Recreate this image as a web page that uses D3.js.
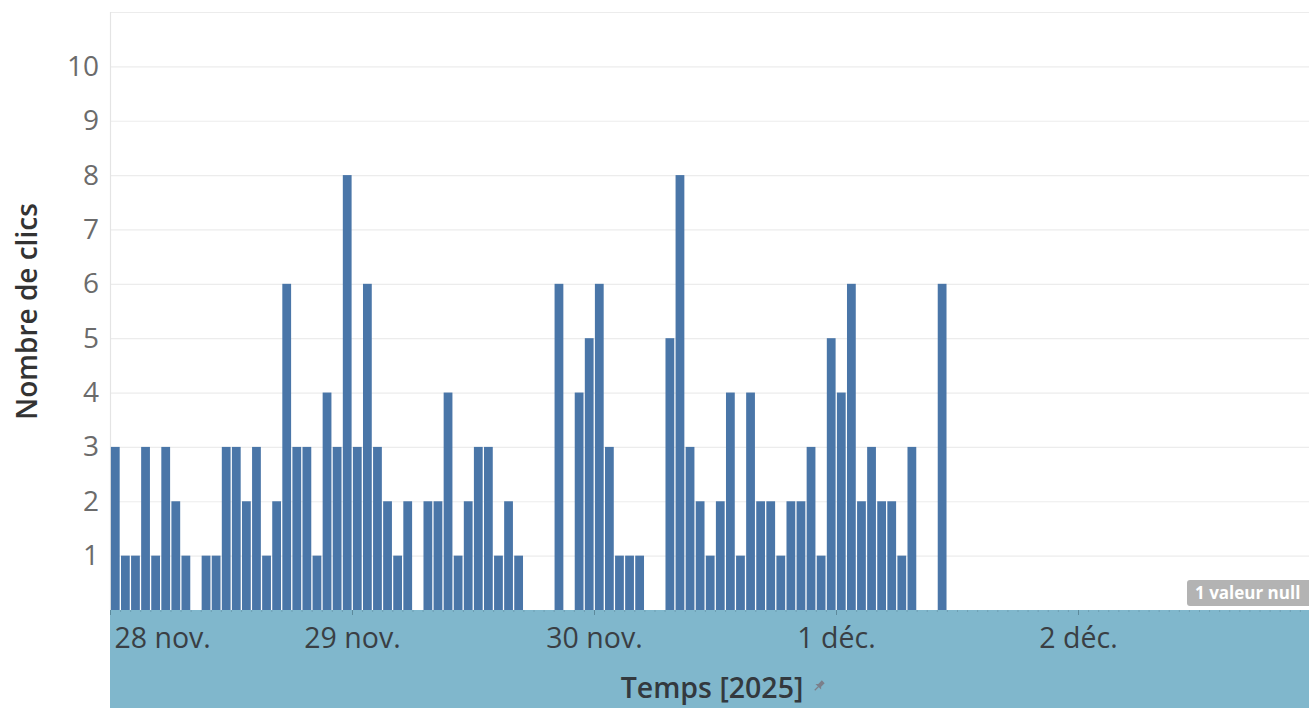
<!DOCTYPE html>
<html><head><meta charset="utf-8">
<script src="https://cdn.jsdelivr.net/npm/d3@7"></script>
<style>
html,body{margin:0;padding:0;background:#fff;}
svg{display:block;}
text{font-family:"Open Sans","DejaVu Sans",sans-serif;}
</style></head>
<body>
<svg id="chart" width="1309" height="708"></svg>
<script>
// ---- data ----
const startHour = "2025-11-28T00:00";      // first hourly bin
const clicks = [
  3,1,1,3,1,3,2,1,0,1,1,3,3,2,3,1,2,6,3,3,1,4,3,8,      // 28 nov.
  3,6,3,2,1,2,0,2,2,4,1,2,3,3,1,2,1,0,0,0,6,0,4,5,      // 29 nov.
  6,3,1,1,1,0,0,5,8,3,2,1,2,4,1,4,2,2,1,2,2,3,1,5,      // 30 nov.
  4,6,2,3,2,2,1,3,0,0,6                                  // 1 déc.
];
const dayTicks = ["2025-11-28","2025-11-29","2025-11-30","2025-12-01","2025-12-02"];
const dayLabels = ["28 nov.","29 nov.","30 nov.","1 déc.","2 déc."];
const yTicks = [1,2,3,4,5,6,7,8,9,10];
const yTitle = "Nombre de clics";
const xTitle = "Temps [2025]";
const nullNote = "1 valeur null";

// ---- layout ----
const W = 1309, H = 708;
const M = {left:110, top:12, right:0, bottomPlot:610};
const svg = d3.select("#chart");

const parse = s => { const [d,t] = s.split("T"); const [Y,Mo,D] = d.split("-").map(Number);
  const [h,mi] = (t||"00:00").split(":").map(Number); return new Date(Y,Mo-1,D,h,mi); };
const t0 = parse(startHour);
const data = clicks.map((v,i)=>({t:new Date(t0.getTime()+i*3600e3), v}));

const x = d3.scaleTime()
  .domain([parse("2025-11-28T00:00"), parse("2025-12-03T00:00")])
  .range([M.left, M.left + 5*242]);
const y = d3.scaleLinear().domain([0,11]).range([M.bottomPlot, M.top]);

svg.append("clipPath").attr("id","plotclip").append("rect")
  .attr("x",M.left).attr("y",0).attr("width",W-M.left).attr("height",H);

// gridlines
svg.append("g")
  .attr("transform",`translate(${M.left},0)`)
  .call(d3.axisLeft(y).tickValues([...yTicks,11]).tickSize(-(W-M.left)).tickFormat(""))
  .call(g=>g.select(".domain").remove())
  .call(g=>g.selectAll("line").attr("stroke","#ececec").attr("stroke-width",1.2));

// left axis line
svg.append("line").attr("x1",M.left+0.5).attr("x2",M.left+0.5)
  .attr("y1",y(11)).attr("y2",y(0)).attr("stroke","#e4e4e4").attr("stroke-width",1.2);

// y labels
svg.append("g")
  .attr("transform",`translate(${M.left-8},0)`)
  .call(d3.axisLeft(y).tickValues(yTicks).tickSize(0).tickFormat(d3.format("d")))
  .call(g=>g.select(".domain").remove())
  .call(g=>g.selectAll("text").attr("fill","#6b6b6b").attr("font-size",28)
        .attr("font-family","'Open Sans',sans-serif"));

// bars
const step = x(parse("2025-11-28T01:00")) - x(parse("2025-11-28T00:00"));
svg.append("g").attr("clip-path","url(#plotclip)")
  .selectAll("rect").data(data.filter(d=>d.v>0)).join("rect")
  .attr("x",d=>x(d.t)+0.9)
  .attr("width",step-1.3)
  .attr("y",d=>y(d.v))
  .attr("height",d=>y(0)-y(d.v))
  .attr("fill","#4a76a8");

// x axis band
svg.append("rect").attr("x",M.left).attr("y",M.bottomPlot)
  .attr("width",W-M.left).attr("height",H-M.bottomPlot).attr("fill","#80b7cc");

// hourly minor ticks
const hours = d3.timeHour.every(1).range(x.domain()[0], x.domain()[1]);
svg.append("g").attr("clip-path","url(#plotclip)")
  .attr("transform",`translate(0,${M.bottomPlot})`)
  .call(d3.axisBottom(x).tickValues(hours).tickSize(2).tickFormat(""))
  .call(g=>g.select(".domain").remove())
  .call(g=>g.selectAll("line").attr("stroke","#6f9fb2").attr("stroke-width",1));

// day ticks + labels
const dayDates = dayTicks.map(parse);
const xa = svg.append("g").attr("transform",`translate(0,${M.bottomPlot})`)
  .call(d3.axisBottom(x).tickValues(dayDates).tickSize(5).tickPadding(13)
        .tickFormat((d,i)=>dayLabels[i]))
  .call(g=>g.select(".domain").remove())
  .call(g=>g.selectAll("line").attr("stroke","#5d8a9c"))
  .call(g=>g.selectAll("text").attr("fill","#3a3f44").attr("font-size",28.5)
        .attr("font-family","'Open Sans',sans-serif"));
xa.selectAll(".tick").filter((d,i)=>i===0).select("text")
  .attr("text-anchor","start").attr("dx",4);

// axis titles
svg.append("text")
  .attr("transform",`translate(37,${(205+418)/2}) rotate(-90)`)
  .attr("text-anchor","middle")
  .attr("font-size",28).attr("font-weight",600).attr("fill","#333")
  .text(yTitle);
svg.append("text")
  .attr("x",712).attr("y",698).attr("text-anchor","middle")
  .attr("font-size",28.5).attr("font-weight",600).attr("fill","#33393e")
  .text(xTitle);
// small pin icon after title
svg.append("path")
  .attr("transform","translate(819,686) rotate(45)")
  .attr("d","M-2,-6 L2,-6 L2,-1 L4,1 L-4,1 L-2,-1 Z M-0.6,1 L0.6,1 L0.6,6 L-0.6,6 Z")
  .attr("fill","#7b7f8a");

// null-value badge
const bx = 1187, by = 580, bw = 126, bh = 26;
svg.append("rect").attr("x",bx).attr("y",by).attr("width",bw).attr("height",bh)
  .attr("rx",3).attr("fill","#b3b3b3");
svg.append("text").attr("x",bx+8).attr("y",by+19)
  .attr("font-size",17).attr("font-weight",700).attr("fill","#fff")
  .text(nullNote);
</script>
</body></html>
